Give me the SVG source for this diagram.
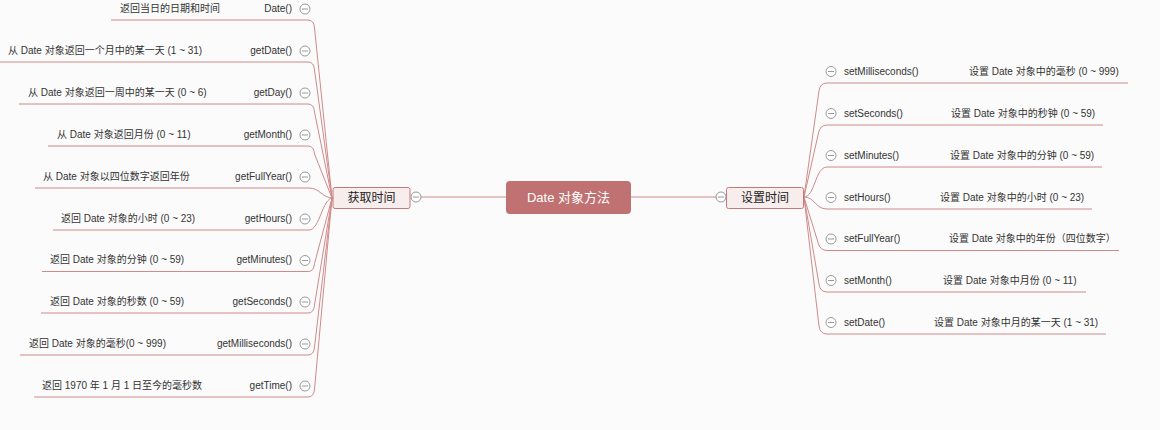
<svg xmlns="http://www.w3.org/2000/svg" width="1160" height="430" viewBox="0 0 1160 430">
<defs>
<style>
text{font-family:"Liberation Sans","Noto Sans CJK SC",sans-serif;}
.t{font-size:10px;fill:#333;}
.l{fill:none;stroke:#d08a8a;stroke-width:1;}
.b{fill:#f7eded;stroke:#c47878;stroke-width:1;}
.bt{font-size:12px;fill:#222;text-anchor:middle;}
</style>
<g id="col"><circle cx="0" cy="0" r="5" fill="#fff" stroke="#999" stroke-width="1"/><line x1="-3" y1="0" x2="3" y2="0" stroke="#999" stroke-width="1"/></g>
</defs>
<rect width="1160" height="430" fill="#fbfbfb"/>
<g id="connectors" class="l">
<path d="M421 197 H506 M631 197 H716"/>
<path d="M111 20 H308 Q314 20 314.5 28 L332 198"/>
<path d="M0 62 H308 Q314 62 314.5 70 L332 198"/>
<path d="M19 104 H308 Q314 104 314.5 112 L332 198"/>
<path d="M48 146 H308 Q314 146 314.5 154 L332 198"/>
<path d="M35 188 H309 C320 188 322 198 333 198"/>
<path d="M53 230 H309 C320 230 322 198 333 198"/>
<path d="M42 271.5 H308 Q314 271.5 314.5 263.5 L332 198"/>
<path d="M41 313 H308 Q314 313 314.5 305 L332 198"/>
<path d="M20 355 H308 Q314 355 314.5 347 L332 198"/>
<path d="M34 397 H308 Q314 397 314.5 389 L332 198"/>
<path d="M804 197 L819 91 Q820 83 827 83 H1128"/>
<path d="M804 197 L818.5 133 Q820 125 827 125 H1103"/>
<path d="M804 197 C815 197 815 167 827 167 H1102"/>
<path d="M804 197 C815 197 815 209 827 209 H1092"/>
<path d="M804 197 L818 242.5 Q820 250.5 827 250.5 H1119"/>
<path d="M804 197 L819 284 Q820 292 827 292 H1086"/>
<path d="M804 197 L819 326 Q820 334 827 334 H1106"/>
</g>
<g id="root"><rect x="506" y="181" width="125" height="33" rx="4" fill="#c07272"/><text x="568.5" y="202" font-size="13" fill="#fff" text-anchor="middle">Date 对象方法</text></g>
<g id="get"><rect class="b" x="333" y="187.5" width="77" height="21" rx="2"/><text class="bt" x="371.5" y="202">获取时间</text><use href="#col" x="416" y="197"/></g>
<g id="set"><rect class="b" x="726.5" y="187.5" width="77" height="21" rx="2"/><text class="bt" x="765" y="202">设置时间</text><use href="#col" x="721" y="197"/></g>
<g id="l1"><text class="t" x="120" y="11.5">返回当日的日期和时间</text><text class="t" x="292" y="11.5" text-anchor="end">Date()</text><use href="#col" x="305" y="9"/></g>
<g id="l2"><text class="t" x="8" y="53.5">从 Date 对象返回一个月中的某一天 (1 ~ 31)</text><text class="t" x="292" y="53.5" text-anchor="end">getDate()</text><use href="#col" x="305" y="51"/></g>
<g id="l3"><text class="t" x="28" y="95.5">从 Date 对象返回一周中的某一天 (0 ~ 6)</text><text class="t" x="292" y="95.5" text-anchor="end">getDay()</text><use href="#col" x="305" y="93"/></g>
<g id="l4"><text class="t" x="57" y="137.5">从 Date 对象返回月份 (0 ~ 11)</text><text class="t" x="292" y="137.5" text-anchor="end">getMonth()</text><use href="#col" x="305" y="135"/></g>
<g id="l5"><text class="t" x="43" y="179.5">从 Date 对象以四位数字返回年份</text><text class="t" x="292" y="179.5" text-anchor="end">getFullYear()</text><use href="#col" x="305" y="177"/></g>
<g id="l6"><text class="t" x="61" y="221.5">返回 Date 对象的小时 (0 ~ 23)</text><text class="t" x="292" y="221.5" text-anchor="end">getHours()</text><use href="#col" x="305" y="219"/></g>
<g id="l7"><text class="t" x="50" y="263">返回 Date 对象的分钟 (0 ~ 59)</text><text class="t" x="292" y="263" text-anchor="end">getMinutes()</text><use href="#col" x="305" y="260.5"/></g>
<g id="l8"><text class="t" x="50" y="304.5">返回 Date 对象的秒数 (0 ~ 59)</text><text class="t" x="292" y="304.5" text-anchor="end">getSeconds()</text><use href="#col" x="305" y="302"/></g>
<g id="l9"><text class="t" x="29" y="346.5">返回 Date 对象的毫秒(0 ~ 999)</text><text class="t" x="292" y="346.5" text-anchor="end">getMilliseconds()</text><use href="#col" x="305" y="344"/></g>
<g id="l10"><text class="t" x="42" y="388.5">返回 1970 年 1 月 1 日至今的毫秒数</text><text class="t" x="292" y="388.5" text-anchor="end">getTime()</text><use href="#col" x="305" y="386"/></g>
<g id="r1"><use href="#col" x="831" y="71.5"/><text class="t" x="844" y="74.5">setMilliseconds()</text><text class="t" x="969" y="74.5">设置 Date 对象中的毫秒 (0 ~ 999)</text></g>
<g id="r2"><use href="#col" x="831" y="113.5"/><text class="t" x="844" y="116.5">setSeconds()</text><text class="t" x="951" y="116.5">设置 Date 对象中的秒钟 (0 ~ 59)</text></g>
<g id="r3"><use href="#col" x="831" y="155.5"/><text class="t" x="844" y="158.5">setMinutes()</text><text class="t" x="950" y="158.5">设置 Date 对象中的分钟 (0 ~ 59)</text></g>
<g id="r4"><use href="#col" x="831" y="197.5"/><text class="t" x="844" y="200.5">setHours()</text><text class="t" x="940" y="200.5">设置 Date 对象中的小时 (0 ~ 23)</text></g>
<g id="r5"><use href="#col" x="831" y="239"/><text class="t" x="844" y="242">setFullYear()</text><text class="t" x="949" y="242">设置 Date 对象中的年份（四位数字）</text></g>
<g id="r6"><use href="#col" x="831" y="280.5"/><text class="t" x="844" y="283.5">setMonth()</text><text class="t" x="943" y="283.5">设置 Date 对象中月份 (0 ~ 11)</text></g>
<g id="r7"><use href="#col" x="831" y="322.5"/><text class="t" x="844" y="325.5">setDate()</text><text class="t" x="934" y="325.5">设置 Date 对象中月的某一天 (1 ~ 31)</text></g>
</svg>
